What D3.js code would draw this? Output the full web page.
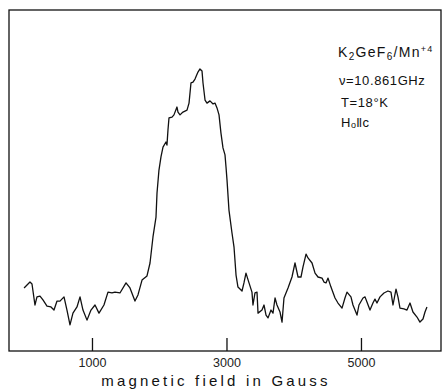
<!DOCTYPE html>
<html>
<head>
<meta charset="utf-8">
<script src="https://cdn.jsdelivr.net/npm/d3@7"></script>
<style>
  body { margin: 0; background: #fff; }
  svg { display: block; font-family: "Liberation Sans", Arial, sans-serif; }
</style>
</head>
<body>
<div id="chart"></div>
<script>
// EPR trace, field in Gauss, intensity in arbitrary units
const field = [
  -10, 78, 108, 152, 182, 227, 271, 331, 390, 435, 480, 524, 584, 628, 673, 717, 777, 822, 866, 926,
  985, 1045, 1104, 1178, 1238, 1297, 1342, 1416, 1506, 1565, 1639, 1684, 1744, 1818, 1863, 1907, 1952, 1967, 1996, 2026,
  2056, 2100, 2115, 2130, 2145, 2190, 2219, 2264, 2279, 2309, 2353, 2413, 2443, 2472, 2502, 2532, 2576, 2606, 2636, 2651,
  2681, 2710, 2755, 2800, 2829, 2859, 2889, 2918, 2948, 2978, 2993, 3008, 3037, 3082, 3112, 3142, 3171, 3231, 3260, 3290,
  3335, 3379, 3394, 3424, 3454, 3469, 3528, 3558, 3588, 3618, 3662, 3692, 3722, 3751, 3796, 3826, 3855, 3915, 3974, 4019,
  4064, 4108, 4138, 4183, 4212, 4272, 4317, 4361, 4421, 4450, 4480, 4510, 4554, 4614, 4658, 4718, 4762, 4792, 4851, 4881,
  4941, 4970, 5030, 5060, 5089, 5134, 5178, 5208, 5238, 5283, 5342, 5401, 5446, 5476, 5521, 5550, 5580, 5639, 5684, 5729,
  5773, 5833, 5877, 5922, 5952, 5981
];
const intensity = [
  18.6, 20.7, 20.0, 12.5, 15.4, 15.7, 14.3, 12.1, 11.8, 10.7, 13.9, 13.9, 15.4, 10.7, 5.4, 9.6, 11.8, 15.4, 10.7, 7.1,
  10.7, 12.5, 9.6, 12.5, 17.1, 16.8, 17.1, 16.8, 20.4, 18.6, 13.9, 16.1, 21.4, 22.9, 27.5, 36.8, 43.9, 52.5, 60.7, 65.4,
  68.9, 70.7, 69.6, 75.0, 79.3, 79.6, 80.4, 83.2, 81.4, 80.4, 81.4, 82.1, 84.6, 91.8, 92.1, 93.2, 95.7, 96.8, 96.1, 91.8,
  85.7, 84.6, 85.4, 84.3, 84.6, 82.9, 80.4, 73.9, 68.6, 66.1, 61.8, 57.1, 46.4, 38.2, 33.2, 23.2, 18.9, 17.5, 20.4, 23.9,
  20.4, 17.1, 12.5, 16.8, 17.1, 9.6, 10.7, 12.5, 8.9, 7.9, 10.7, 9.6, 15.0, 12.5, 10.0, 6.4, 15.0, 18.6, 22.5, 27.5,
  22.5, 22.5, 26.1, 30.7, 29.3, 27.5, 23.9, 22.5, 22.1, 20.7, 20.4, 22.1, 18.9, 15.0, 13.2, 11.4, 15.0, 17.1, 15.4, 12.5,
  8.9, 12.5, 15.0, 15.4, 13.6, 10.7, 13.2, 14.6, 13.2, 15.4, 16.8, 17.5, 17.1, 12.5, 18.2, 15.4, 11.4, 11.1, 10.7, 13.2,
  10.0, 8.2, 6.4, 7.5, 10.0, 11.8
];
const xTicks = [1000, 3000, 5000];
const xTitle = "magnetic field in Gauss";

const width = 442, height = 391;
const svg = d3.select("#chart").append("svg")
  .attr("width", width)
  .attr("height", height);

const frameL = 9, frameR = 441, frameT = 10, frameB = 351;

const x = d3.scaleLinear()
  .domain([-234, 6190])
  .range([frameL, frameR]);
const y = d3.scaleLinear()
  .domain([0, 100])
  .range([340, 60]);

// frame
svg.append("rect")
  .attr("x", frameL)
  .attr("y", frameT)
  .attr("width", frameR - frameL)
  .attr("height", frameB - frameT)
  .attr("fill", "none")
  .attr("stroke", "#111")
  .attr("stroke-width", 1.3);

const xAxis = d3.axisBottom(x)
  .tickValues(xTicks)
  .tickSize(-13)
  .tickPadding(7)
  .tickFormat(d3.format("d"));

const gx = svg.append("g")
  .attr("transform", "translate(0," + frameB + ")")
  .call(xAxis);
gx.select(".domain").remove();
gx.selectAll(".tick line").attr("stroke", "#111").attr("stroke-width", 1.3);
gx.selectAll(".tick text")
  .attr("fill", "#222")
  .style("font-size", "12.5px")
  .style("font-family", "'Liberation Sans', Arial, sans-serif");

svg.append("text")
  .attr("x", 216)
  .attr("y", 386)
  .attr("text-anchor", "middle")
  .attr("fill", "#111")
  .style("font-size", "15px")
  .style("letter-spacing", "3.2px")
  .text(xTitle);

// trace
const pts = field.map((f, i) => [f, intensity[i]]);
const line = d3.line()
  .x(d => x(d[0]))
  .y(d => y(d[1]));

svg.append("path")
  .datum(pts)
  .attr("d", line)
  .attr("fill", "none")
  .attr("stroke", "#111")
  .attr("stroke-width", 1.3)
  .attr("stroke-linejoin", "round");

// annotation
const note = svg.append("g")
  .attr("fill", "#111")
  .style("font-size", "13px")
  .style("letter-spacing", "0.6px");

const t1 = note.append("text").attr("x", 338).attr("y", 57)
  .style("font-size", "14px").style("letter-spacing", "1.3px");
t1.append("tspan").text("K");
t1.append("tspan").attr("dy", 3).style("font-size", "10px").text("2");
t1.append("tspan").attr("dy", -3).text("GeF");
t1.append("tspan").attr("dy", 3).style("font-size", "10px").text("6");
t1.append("tspan").attr("dy", -3).text("/Mn");
t1.append("tspan").attr("dy", -5).style("font-size", "9px").text("+4");

note.append("text").attr("x", 339).attr("y", 85).text("\u03bd=10.861GHz");
note.append("text").attr("x", 341).attr("y", 107).text("T=18\u00b0K");

const t4 = note.append("text").attr("x", 341).attr("y", 127);
t4.append("tspan").text("H");
t4.append("tspan").attr("dy", 1).style("font-size", "9px").text("o");
t4.append("tspan").attr("dy", -1).style("letter-spacing", "-0.5px").text("ll");
t4.append("tspan").attr("dx", 1).text("c");
</script>
</body>
</html>
